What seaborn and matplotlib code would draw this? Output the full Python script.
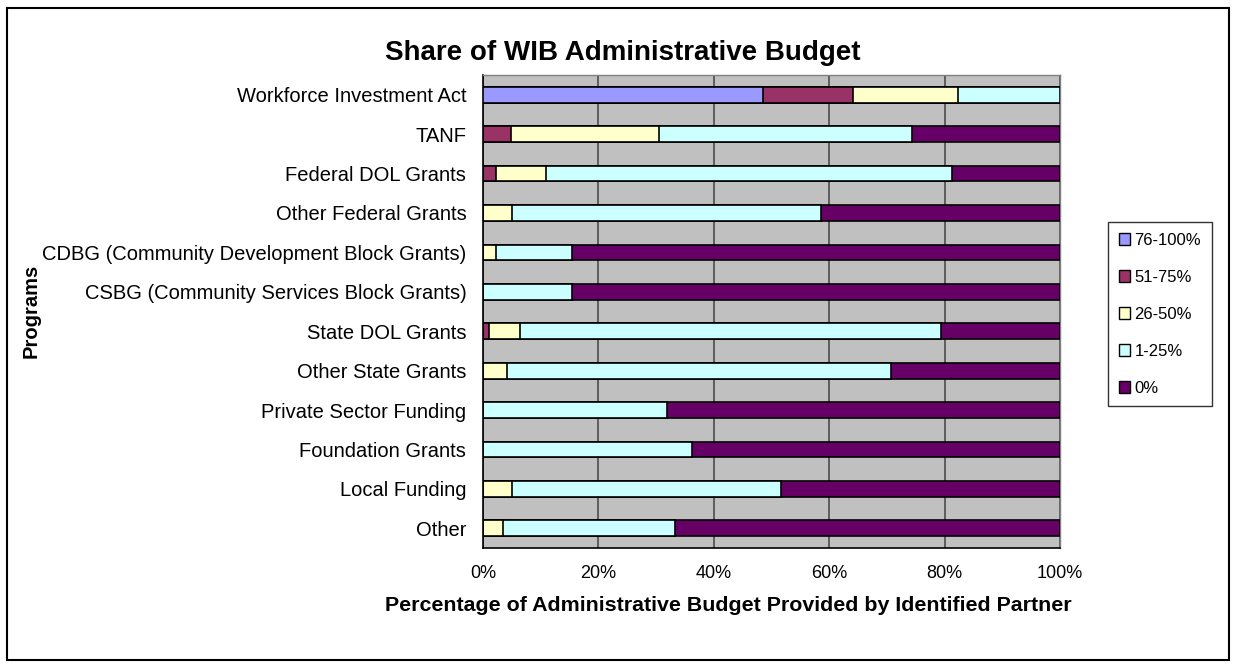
import matplotlib
matplotlib.use("Agg")
import matplotlib.pyplot as plt
from matplotlib.patches import Rectangle, Patch
import numpy as np
import seaborn as sns

# Programs (top to bottom) and the share of each program's partners per budget band
programs = [
    "Workforce Investment Act",
    "TANF",
    "Federal DOL Grants",
    "Other Federal Grants",
    "CDBG (Community Development Block Grants)",
    "CSBG (Community Services Block Grants)",
    "State DOL Grants",
    "Other State Grants",
    "Private Sector Funding",
    "Foundation Grants",
    "Local Funding",
    "Other",
]
share_76_100 = [48.6, 0, 0, 0, 0, 0, 0, 0, 0, 0, 0, 0]
share_51_75 = [15.5, 4.8, 2.3, 0, 0, 0, 1.1, 0, 0, 0, 0, 0]
share_26_50 = [18.3, 25.7, 8.7, 5.1, 2.3, 0, 5.3, 4.2, 0, 0, 5.1, 3.5]
share_1_25 = [17.6, 43.9, 70.2, 53.4, 13.1, 15.4, 72.9, 66.5, 31.8, 36.2, 46.6, 29.8]
share_0 = [0, 25.6, 18.8, 41.5, 84.6, 84.6, 20.7, 29.3, 68.2, 63.8, 48.3, 66.7]

band_labels = ["76-100%", "51-75%", "26-50%", "1-25%", "0%"]
band_colors = ["#9999FF", "#993366", "#FFFFCC", "#CCFFFF", "#660066"]

sns.set_style("white")
plt.rcParams["font.family"] = ["Liberation Sans", "DejaVu Sans"]
plt.rcParams["text.color"] = "black"
plt.rcParams["xtick.color"] = "black"
plt.rcParams["ytick.color"] = "black"
plt.rcParams["axes.labelcolor"] = "black"

fig = plt.figure(figsize=(12.36, 6.68), dpi=100)
ax = fig.add_axes([0.3908, 0.1796, 0.4668, 0.7081])
ax.set_facecolor("#C0C0C0")

# Stacked bars: draw cumulative totals from the widest layer down
bands = [share_76_100, share_51_75, share_26_50, share_1_25, share_0]
cums = np.cumsum(np.array(bands, dtype=float), axis=0)
for i in range(len(bands) - 1, -1, -1):
    sns.barplot(x=cums[i], y=programs, orient="y", color=band_colors[i],
                saturation=1, width=0.4, edgecolor="black", linewidth=1.2,
                ax=ax, zorder=3)

ax.set_xlim(0, 100)
ax.set_ylim(len(programs) - 0.5, -0.5)
ax.set_xticks(np.arange(0, 101, 20))
ax.set_xticklabels([f"{v}%" for v in range(0, 101, 20)], fontsize=13)
ax.tick_params(axis="x", direction="out", length=6, width=1, color="black",
               labelcolor="black", pad=6)
ax.tick_params(axis="y", which="major", length=0, labelsize=14.5, labelcolor="black", pad=12)
ax.set_yticks(np.arange(len(programs)) + 0.5, minor=True)
ax.tick_params(axis="y", which="minor", direction="out", length=6, width=1, color="black")
ax.set_xlabel("")
ax.set_ylabel("")

ax.set_axisbelow(True)
ax.xaxis.grid(True, color="#555555", linewidth=1.3, zorder=0)
ax.yaxis.grid(False)
for side in ["top", "right"]:
    ax.spines[side].set_color("#808080")
    ax.spines[side].set_linewidth(1)
for side in ["left", "bottom"]:
    ax.spines[side].set_color("black")
    ax.spines[side].set_linewidth(1.2)

fig.text(0.504, 0.921, "Share of WIB Administrative Budget", ha="center", va="center",
         fontsize=20, fontweight="bold", color="black")
fig.text(0.589, 0.094, "Percentage of Administrative Budget Provided by Identified Partner",
         ha="center", va="center", fontsize=15.4, fontweight="bold", color="black")
fig.text(0.025, 0.535, "Programs", ha="center", va="center", rotation=90,
         fontsize=14.5, fontweight="bold", color="black")

handles = [Patch(facecolor=c, edgecolor="black", linewidth=1) for c in band_colors]
leg = fig.legend(handles, band_labels, loc="upper left", bbox_to_anchor=(0.8964, 0.668),
                 bbox_transform=fig.transFigure, fontsize=12, frameon=True,
                 fancybox=False, edgecolor="black", handlelength=0.7, handleheight=0.7,
                 handletextpad=0.25, labelspacing=1.32, borderpad=0.65, borderaxespad=0)
leg.get_frame().set_linewidth(1)
for t in leg.get_texts():
    t.set_color("black")

fig.patches.append(Rectangle((0.006, 0.012), 0.988, 0.976, transform=fig.transFigure,
                             fill=False, edgecolor="black", linewidth=1.5))

fig.savefig("out.png", dpi=100)
